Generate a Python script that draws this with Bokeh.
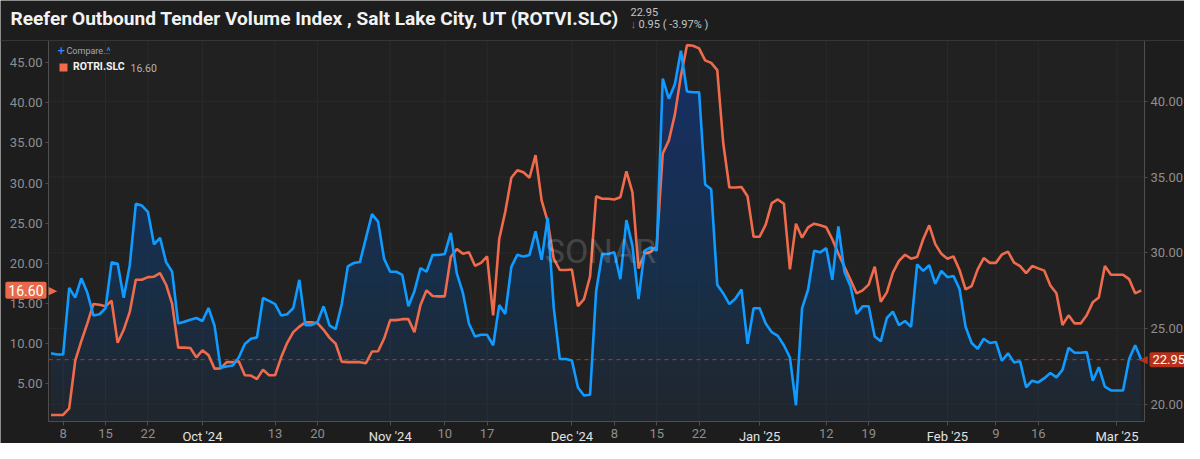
import numpy as np
import pandas as pd
from bokeh.plotting import figure
from bokeh.models import (Range1d, LinearAxis, DatetimeAxis, FixedTicker, PrintfTickFormatter,
                          Span, Label, Legend, LegendItem, BoxAnnotation)
from bokeh.embed import file_html
from bokeh.resources import INLINE

# ---------------- data ----------------
start_date = "2024-09-06"

rotvi_sep = [23.37, 23.29, 23.29, 27.68, 27.04, 28.32, 27.36, 25.87, 25.95, 26.34, 29.37, 29.28, 27.04,
             29.18, 33.23, 33.12, 32.70, 30.56, 30.99, 29.39, 28.75, 25.34, 25.45, 25.59, 25.70]
rotvi_oct = [25.50, 26.36, 25.19, 22.41, 22.50, 22.56, 23.09, 23.99, 24.33, 24.42, 27.02, 26.83, 26.62,
             25.87, 25.95, 26.36, 28.22, 25.23, 25.23, 25.44, 26.47, 25.19, 24.97, 26.62, 29.10, 29.33,
             29.39, 30.99, 32.55, 32.06, 29.60]
rotvi_nov = [28.75, 28.75, 28.54, 26.47, 27.47, 29.00, 28.75, 29.86, 29.86, 29.92, 31.31, 28.64, 27.36,
             25.34, 24.48, 24.59, 24.59, 23.90, 26.55, 25.97, 29.07, 29.88, 29.75, 29.86, 31.42, 29.54,
             32.31, 26.40, 22.99, 22.99]
rotvi_dec = [22.90, 21.11, 20.58, 20.64, 27.47, 29.92, 29.92, 30.03, 28.26, 32.16, 30.46, 26.94, 30.14,
             30.35, 30.14, 41.49, 40.17, 41.13, 43.33, 40.64, 40.60, 40.60, 34.51, 34.19, 27.90, 27.32,
             26.62, 26.98, 27.58, 23.99, 26.34]
rotvi_jan = [26.34, 25.34, 24.76, 24.52, 23.90, 23.09, 19.94, 26.34, 27.58, 30.14, 30.03, 30.31, 28.22,
             31.74, 28.75, 27.79, 25.97, 26.47, 26.47, 24.48, 24.16, 25.70, 26.12, 25.23, 25.50, 25.12,
             29.24, 28.81, 29.18, 27.96, 28.81]
rotvi_feb = [28.39, 28.47, 27.62, 25.12, 24.05, 23.67, 24.33, 24.05, 24.12, 22.88, 23.37, 22.77, 22.84,
             21.13, 21.56, 21.45, 21.73, 22.07, 21.78, 22.28, 23.73, 23.41, 23.41, 23.45, 21.56, 22.45,
             21.17, 20.92]
rotvi_mar = [20.92, 20.92, 22.99, 23.90, 22.95]

rotri_sep = [1.04, 1.04, 1.04, 1.85, 7.83, 10.25, 12.47, 14.90, 14.80, 14.60, 15.30, 10.05, 11.67, 13.90,
             17.93, 17.93, 18.25, 18.30, 18.74, 17.30, 14.90, 9.44, 9.44, 9.40, 8.23]
rotri_oct = [9.12, 8.51, 6.82, 6.85, 7.63, 7.63, 7.75, 6.00, 5.96, 5.52, 6.70, 6.00, 6.00, 8.23, 10.05,
             11.38, 12.07, 12.60, 12.60, 12.50, 11.67, 10.66, 9.93, 7.70, 7.63, 7.63, 7.63, 7.50, 8.96,
             9.00, 10.58]
rotri_nov = [12.88, 12.88, 13.00, 13.00, 11.38, 14.78, 16.60, 15.90, 15.85, 15.85, 20.76, 21.77, 21.16,
             21.36, 19.67, 20.03, 20.84, 13.48, 23.00, 26.41, 30.66, 31.59, 31.34, 30.66, 33.48, 27.83,
             25.20, 20.56, 19.14, 19.14]
rotri_dec = [19.20, 14.62, 15.50, 18.33, 28.35, 28.03, 28.03, 27.95, 28.23, 31.46, 28.84, 19.34, 21.16,
             21.40, 22.05, 33.69, 35.30, 38.54, 43.38, 47.22, 47.15, 46.82, 45.32, 45.00, 44.11, 34.90,
             29.44, 29.44, 29.50, 28.35, 23.30]
rotri_jan = [23.30, 24.80, 27.50, 27.95, 27.42, 19.22, 24.92, 23.18, 24.47, 24.92, 24.72, 24.47, 22.98,
             21.16, 19.55, 17.93, 16.23, 16.60, 17.32, 19.55, 15.18, 16.35, 18.82, 20.27, 21.04, 20.55,
             20.75, 22.98, 24.72, 22.37, 21.16]
rotri_feb = [20.55, 20.84, 19.14, 16.72, 17.12, 19.22, 20.63, 20.03, 20.03, 21.08, 21.44, 20.07, 19.63,
             18.74, 19.63, 19.34, 19.06, 17.20, 16.23, 12.27, 13.48, 12.47, 12.47, 13.48, 15.10, 15.70,
             19.63, 18.54]
rotri_mar = [18.54, 18.54, 18.00, 16.23, 16.60]

week_tick_dates = ["2024-09-08", "2024-09-15", "2024-09-22", "2024-10-13", "2024-10-20",
                   "2024-11-10", "2024-11-17", "2024-12-08", "2024-12-15", "2024-12-22",
                   "2025-01-12", "2025-01-19", "2025-02-09", "2025-02-16"]
week_tick_labels = ["8", "15", "22", "13", "20", "10", "17", "8", "15", "22", "12", "19", "9", "16"]
month_tick_dates = ["2024-10-01", "2024-11-01", "2024-12-01", "2025-01-01", "2025-02-01", "2025-03-01"]
month_tick_labels = ["Oct '24", "Nov '24", "Dec '24", "Jan '25", "Feb '25", "Mar '25"]
left_ticks = [5, 10, 15, 20, 25, 30, 35, 40, 45]
right_ticks = [20, 25, 30, 35, 40]

title_text = "Reefer Outbound Tender Volume Index , Salt Lake City, UT (ROTVI.SLC)"
series_cmp = "ROTRI.SLC"

# ---------------- build ----------------
rotvi = np.array(rotvi_sep + rotvi_oct + rotvi_nov + rotvi_dec + rotvi_jan + rotvi_feb + rotvi_mar)
rotri = np.array(rotri_sep + rotri_oct + rotri_nov + rotri_dec + rotri_jan + rotri_feb + rotri_mar)
dates = pd.date_range(start_date, periods=len(rotvi), freq="D")
d_ms = np.asarray(dates.astype("int64") // 10**6, dtype=float)

def to_ms(lst):
    return [float(t) for t in (pd.to_datetime(lst).astype("int64") // 10**6)]

week_ms = to_ms(week_tick_dates)
month_ms = to_ms(month_tick_dates)

FONT = "Roboto"
W, H = 1184, 443
# pixel box of the plotting area inside the canvas (layout constants)
PL, PR, PT, PB = 48, 1144, 40, 421

HOUR = 3600e3
XA, XB = d_ms[0] - 10 * HOUR, d_ms[-1] + 13 * HOUR      # plotted time extent
LY0, LY1 = 0.22, 47.8                                   # left-axis extent
RY0, RY1 = 18.87, 44.01                                 # right-axis extent

sx = (XB - XA) / (PR - PL)
sl = (LY1 - LY0) / (PB - PT)
sr = (RY1 - RY0) / (PB - PT)

p = figure(width=W, height=H, x_axis_type="datetime",
           x_range=Range1d(XA - PL * sx, XB + (W - PR) * sx),
           y_range=Range1d(LY0 - (H - PB) * sl, LY1 + PT * sl),
           output_backend="svg", toolbar_location=None, min_border=0,
           background_fill_color="#1d1d1d", border_fill_color="#1d1d1d",
           outline_line_color=None)
p.extra_y_ranges = {"right": Range1d(RY0 - (H - PB) * sr, RY1 + PT * sr)}
p.title.visible = False
p.xgrid.visible = False
p.ygrid.visible = False

# plot-area background and header separator
p.add_layout(BoxAnnotation(left=XA, right=XB, bottom=LY0, top=LY1, fill_color="#212121",
                           fill_alpha=1, line_color=None, level="underlay"))
p.add_layout(Span(location=LY1, dimension="width", line_color="#363636", line_width=1))

# grid lines (at axis ticks)
p.segment(x0=week_ms + month_ms, y0=LY0, x1=week_ms + month_ms, y1=LY1,
          line_color="#2a2a2a", line_width=1)
p.segment(x0=XA, y0=right_ticks, x1=XB, y1=right_ticks, y_range_name="right",
          line_color="#2a2a2a", line_width=1)

# gradient-like area fill under the main series
base = np.full(len(rotvi), RY0)
p.varea(x=dates, y1=base, y2=rotvi, y_range_name="right", fill_color="#1c4e80", fill_alpha=0.13)
for lev in np.arange(20.0, 44.0, 1.0):
    p.varea(x=dates, y1=np.minimum(rotvi, lev), y2=rotvi, y_range_name="right",
            fill_color="#1c4e80", fill_alpha=0.045)

# last-value dashed line
p.segment(x0=XA, y0=rotvi[-1], x1=XB, y1=rotvi[-1], y_range_name="right",
          line_color="#b8402c", line_dash="4 4", line_width=1, line_alpha=0.9)

p.line(dates, rotri, color="#ef6b4c", line_width=2.6)
p.line(dates, rotvi, y_range_name="right", color="#0f9bff", line_width=2.6)

# ---------------- axes ----------------
def style_axis(ax, color="#8e8e8e"):
    ax.axis_line_color = "#4e4e4e"
    ax.major_tick_line_color = "#4e4e4e"
    ax.major_tick_out = 3
    ax.major_tick_in = 0
    ax.minor_tick_line_color = None
    ax.major_label_text_color = color
    ax.major_label_text_font = FONT
    ax.major_label_text_font_size = "13px"
    ax.major_label_standoff = 3

xa = p.xaxis[0]
xa.fixed_location = LY0
xa.bounds = (XA, XB)
xa.ticker = FixedTicker(ticks=week_ms)
xa.major_label_overrides = dict(zip(week_ms, week_tick_labels))
style_axis(xa, "#8e8e8e")
xa.major_tick_out = 4

xm = DatetimeAxis(fixed_location=LY0, bounds=(XA, XB), ticker=FixedTicker(ticks=month_ms),
                  major_label_overrides=dict(zip(month_ms, month_tick_labels)))
style_axis(xm, "#e2e2e2")
xm.axis_line_color = None
xm.major_tick_out = 4
p.add_layout(xm, "below")

ya = p.yaxis[0]
ya.fixed_location = XA
ya.bounds = (LY0, LY1)
ya.ticker = FixedTicker(ticks=left_ticks)
ya.formatter = PrintfTickFormatter(format="%.2f")
style_axis(ya)

ra = LinearAxis(y_range_name="right", fixed_location=XB, bounds=(RY0, RY1),
                ticker=FixedTicker(ticks=right_ticks), formatter=PrintfTickFormatter(format="%.2f"))
style_axis(ra)
p.add_layout(ra, "right")

# ---------------- value tags ----------------
p.add_layout(Label(x=XA, y=float(rotri[-1]), text=f"{rotri[-1]:.2f}",
                   text_align="right", text_baseline="middle", x_offset=-2,
                   text_font=FONT, text_font_size="14px", text_color="#ffffff",
                   background_fill_color="#e96a4b", padding=3, border_radius=2))
p.add_layout(Label(x=XA, y=float(rotri[-1]), text="\u25B6", text_align="left",
                   text_baseline="middle", x_offset=0, text_font="DejaVu Sans",
                   text_font_size="11px", text_color="#e96a4b"))
p.add_layout(Label(x=XB, y=float(rotvi[-1]), y_range_name="right",
                   text=f"{rotvi[-1]:.2f}", text_align="left", text_baseline="middle",
                   x_offset=5, text_font=FONT, text_font_size="13px", text_color="#ffffff",
                   background_fill_color="#b8321b", padding=3, border_radius=2))
p.add_layout(Label(x=XB, y=float(rotvi[-1]), y_range_name="right", text="\u25C0",
                   text_align="right", text_baseline="middle", x_offset=3,
                   text_font="DejaVu Sans", text_font_size="11px", text_color="#b8321b"))

# ---------------- header ----------------
chg = rotvi[-1] - rotvi[-2]
pct = chg / rotvi[-2] * 100
p.add_layout(Label(x=10, y=H - 18, x_units="screen", y_units="screen", text=title_text,
                   text_baseline="middle", text_font=FONT, text_font_style="bold",
                   text_font_size="19.1px", text_color="#f2f2f2"))
p.add_layout(Label(x=630, y=H - 11, x_units="screen", y_units="screen", text=f"{rotvi[-1]:.2f}",
                   text_baseline="middle", text_font=FONT, text_font_size="11px",
                   text_color="#c4c4c4"))
p.add_layout(Label(x=630, y=H - 24, x_units="screen", y_units="screen", text="\u2193",
                   text_baseline="middle", text_font=FONT, text_font_size="11px",
                   text_color="#f0443a"))
p.add_layout(Label(x=638, y=H - 24, x_units="screen", y_units="screen",
                   text=f"{abs(chg):.2f} ( {pct:.2f}% )",
                   text_baseline="middle", text_font=FONT, text_font_size="11px",
                   text_color="#c4c4c4"))

# ---------------- compare row + legend ----------------
p.add_layout(Label(x=57, y=H - 50, x_units="screen", y_units="screen", text="+",
                   text_baseline="middle", text_font=FONT, text_font_size="13px",
                   text_color="#2f8ff5"))
p.add_layout(Label(x=66, y=H - 50, x_units="screen", y_units="screen", text="Compare...",
                   text_baseline="middle", text_font=FONT, text_font_size="9px",
                   text_color="#a8a8a8"))
p.add_layout(Label(x=106, y=H - 51, x_units="screen", y_units="screen", text="^",
                   text_baseline="middle", text_font=FONT, text_font_size="10px",
                   text_color="#2f8ff5"))

swatch = p.varea(x=dates, y1=rotri, y2=rotri, fill_color="#ef6b4c")
leg = Legend(items=[LegendItem(label=series_cmp, renderers=[swatch])], location=(58, H - 73),
             glyph_width=10, glyph_height=10, label_height=12, label_standoff=5, padding=0,
             margin=0, spacing=0, background_fill_alpha=0, border_line_color=None,
             label_text_color="#f2f2f2", label_text_font=FONT, label_text_font_style="bold",
             label_text_font_size="10.5px")
p.add_layout(leg)
p.add_layout(Label(x=130, y=H - 67, x_units="screen", y_units="screen", text=f"{rotri[-1]:.2f}",
                   text_baseline="middle", text_font=FONT, text_font_size="10.5px",
                   text_color="#b4b4b4"))

# watermark
p.add_layout(Label(x=600, y=H - 250, x_units="screen", y_units="screen", text="SONAR",
                   text_align="center", text_baseline="middle", text_font=FONT,
                   text_font_size="34px", text_color="#ffffff", text_alpha=0.18))

open("out.html", "w").write(file_html(p, INLINE))
